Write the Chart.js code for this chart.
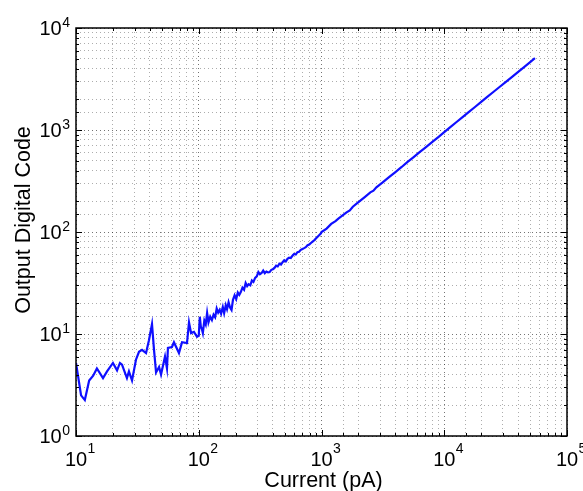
<!DOCTYPE html>
<html>
<head>
<meta charset="utf-8">
<script src="https://cdn.jsdelivr.net/npm/chart.js@4"></script>
<style>
  body { margin: 0; background: #fff; }
  canvas { display: block; }
</style>
</head>
<body>
<canvas id="miGrafica" width="583" height="491"></canvas>
<script>
// corriente (pA) y codigo digital de salida
var corriente = [
  10, 11.0, 11.8, 12.8, 13.8, 14.8, 16.6, 17.9, 20.0, 21.6, 22.8, 23.7, 26.0, 27.0, 28.6,
  30.8, 32.6, 34.5, 37.2, 39.3, 41.6, 43.2, 44.9, 47.5, 49.3, 53.1, 55.1, 56.1, 60.5,
  62.8, 69.0, 73.1, 80.2, 83.3, 86.6, 91.4, 96.8,
  100, 102, 104, 106, 108, 111, 114, 117, 120, 124, 128, 132, 136, 140, 144, 148, 152,
  157, 161, 166, 170, 175, 180, 185, 190, 196, 202, 208, 214, 220, 227, 234, 241, 248,
  255, 263, 271, 279, 288, 297, 306, 315, 325, 335, 345, 356, 367, 378, 390, 402, 414,
  427, 440, 454, 468, 482, 497, 512, 528, 545, 562, 580, 598, 617, 637, 657, 678, 700,
  722, 745, 770, 795, 820, 846, 873, 900, 930, 960, 990,
  1000, 1100, 1200, 1300, 1380, 1450, 1600, 1700, 1800, 2000, 2250, 2500, 2650, 2800, 3150, 3550, 4000,
  4500, 5000, 5600, 6300, 7100, 8000, 9000, 10000, 11200, 12600, 14100, 15800, 17800,
  20000, 22400, 25100, 28200, 31600, 35500, 39800, 44700, 50100, 54800
];
var codigo = [
  5.2, 2.5, 2.25, 3.5, 3.9, 4.6, 3.7, 4.3, 5.2, 4.4, 5.2, 5.0, 3.7, 4.3, 3.5,
  5.6, 6.7, 7.0, 6.5, 8.7, 12.5, 7.0, 4.2, 4.75, 4.0, 6.0, 4.6, 7.3, 7.45,
  8.3, 6.5, 8.3, 8.15, 13, 10.2, 10.5, 9.4,
  9.6, 14.7, 11.8, 11.2, 10.2, 13.5, 12.4, 16.1, 13.0, 14.8, 13.7, 15.5, 14.6, 17.8, 16.2, 17.2, 15.8,
  18.4, 16.0, 19.2, 17.5, 20.5, 18.2, 17.2, 21.6, 24.0, 22.0, 25.5, 24.2, 25.8, 28.5, 27.2, 31.6, 29.5,
  30.8, 30.0, 33.5, 32.4, 35.5, 36.8, 40.5, 38.6, 39.6, 41.8, 39.5, 41.0, 40.2, 40.5, 42.6, 43.2, 44.5,
  46.8, 46.0, 48.9, 48.0, 50.6, 52.8, 51.4, 54.5, 56.0, 55.6, 58.4, 60.8, 60.2, 63.5, 64.0, 66.8, 68.2,
  69.5, 71.0, 74.2, 75.5, 78.0, 80.5, 83.0, 86.5, 90.0, 93.5, 97.0,
  100, 108, 120, 128, 136, 142, 156, 163, 177, 196, 220, 245, 254, 274, 306, 345, 387,
  434, 484, 540, 607, 680, 765, 858, 955, 1068, 1198, 1338, 1495, 1680,
  1885, 2108, 2357, 2640, 2950, 3305, 3696, 4142, 4630, 5060
];
var decadasX = [1, 2, 3, 4, 5];
var decadasY = [0, 1, 2, 3, 4];

var fuente = '"Liberation Sans", Arial, sans-serif';

function esDecada(v) {
  var l = Math.log10(v);
  return Math.abs(l - Math.round(l)) < 1e-6;
}

var puntos = new Array();
for (var i = 0; i < corriente.length; i++) {
  puntos.push({ x: corriente[i], y: codigo[i] });
}

var rejilla = {
  display: true,
  drawTicks: false,
  color: function (c) {
    if (c.tick && esDecada(c.tick.value)) return 'rgba(0,0,0,0.55)';
    return 'rgba(0,0,0,0.32)';
  },
  lineWidth: 1
};

// marcas hacia dentro, etiquetas 10^n y caja
var estiloMatlab = {
  id: 'estiloMatlab',
  afterDraw: function (chart) {
    var ctx = chart.ctx;
    var a = chart.chartArea;
    var sx = chart.scales.x;
    var sy = chart.scales.y;
    ctx.save();
    ctx.strokeStyle = '#000';
    ctx.lineWidth = 1;
    ctx.beginPath();
    sx.ticks.forEach(function (t) {
      var p = Math.round(sx.getPixelForValue(t.value)) + 0.5;
      var L = esDecada(t.value) ? 6 : 3;
      ctx.moveTo(p, a.bottom); ctx.lineTo(p, a.bottom - L);
      ctx.moveTo(p, a.top); ctx.lineTo(p, a.top + L);
    });
    sy.ticks.forEach(function (t) {
      var p = Math.round(sy.getPixelForValue(t.value)) + 0.5;
      var L = esDecada(t.value) ? 6 : 3;
      ctx.moveTo(a.left, p); ctx.lineTo(a.left + L, p);
      ctx.moveTo(a.right, p); ctx.lineTo(a.right - L, p);
    });
    ctx.stroke();

    ctx.lineWidth = 1.5;
    ctx.strokeRect(a.left, a.top, a.right - a.left, a.bottom - a.top);

    ctx.fillStyle = '#000';
    decadasX.forEach(function (d) {
      var p = sx.getPixelForValue(Math.pow(10, d));
      ctx.font = '20px ' + fuente;
      ctx.textAlign = 'center';
      ctx.textBaseline = 'alphabetic';
      ctx.fillText('10', p, a.bottom + 30);
      var w = ctx.measureText('10').width;
      ctx.font = '14px ' + fuente;
      ctx.textAlign = 'left';
      ctx.fillText(String(d), p + w / 2 + 0.5, a.bottom + 17);
    });
    decadasY.forEach(function (d) {
      var p = sy.getPixelForValue(Math.pow(10, d));
      ctx.font = '14px ' + fuente;
      ctx.textAlign = 'right';
      ctx.textBaseline = 'alphabetic';
      ctx.fillText(String(d), a.left - 6, p - 1);
      var ws = ctx.measureText(String(d)).width;
      ctx.font = '20px ' + fuente;
      ctx.fillText('10', a.left - 6 - ws - 0.5, p + 7);
    });

    ctx.font = '21.5px ' + fuente;
    ctx.textAlign = 'center';
    ctx.fillText('Current (pA)', (a.left + a.right) / 2 + 2, 487);
    ctx.translate(30, 220);
    ctx.rotate(-Math.PI / 2);
    ctx.fillText('Output Digital Code', 0, 0);
    ctx.restore();
  }
};

let miCanvas = document.getElementById("miGrafica").getContext("2d");

var grafica = new Chart(miCanvas, {
  type: "line",
  data: {
    datasets: [
      {
        label: "Output Digital Code",
        data: puntos,
        borderColor: 'rgb(15,15,255)',
        backgroundColor: 'rgb(15,15,255)',
        borderWidth: 2.2,
        pointRadius: 0,
        tension: 0,
        fill: false
      }]
  },
  options: {
    responsive: false,
    animation: false,
    layout: { padding: { left: 76, right: 16, top: 28, bottom: 55 } },
    plugins: { legend: { display: false }, tooltip: { enabled: false } },
    scales: {
      x: {
        type: 'logarithmic',
        min: 10,
        max: 100000,
        ticks: { display: false, autoSkip: false },
        grid: rejilla,
        border: { display: false, dash: [1, 3] }
      },
      y: {
        type: 'logarithmic',
        min: 1,
        max: 10000,
        ticks: { display: false, autoSkip: false },
        grid: rejilla,
        border: { display: false, dash: [1, 3] }
      }
    }
  },
  plugins: [estiloMatlab]
});
</script>
</body>
</html>
